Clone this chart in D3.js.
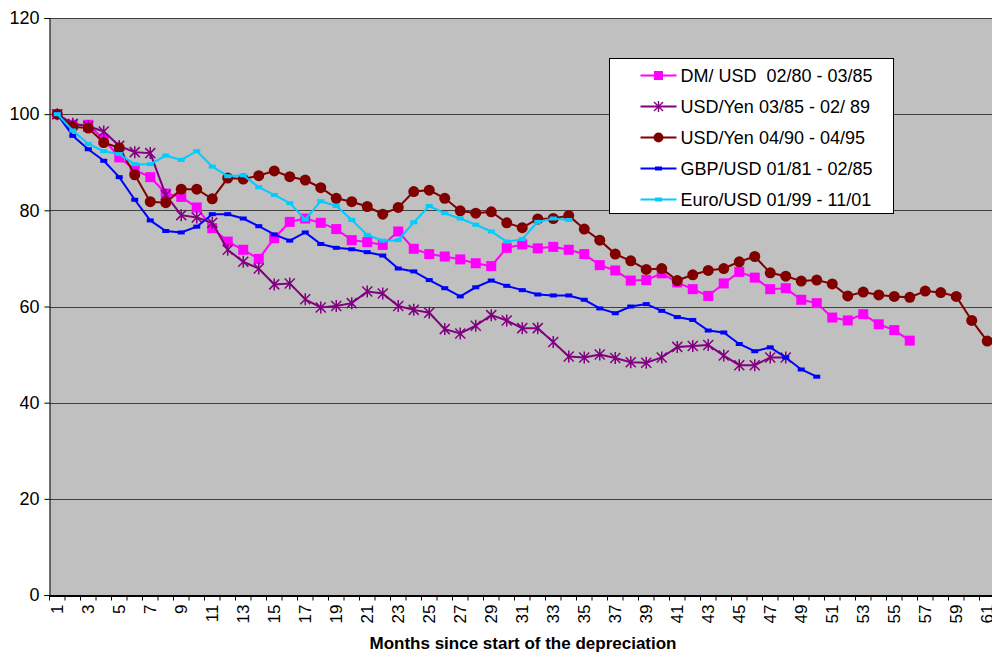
<!DOCTYPE html>
<meta charset="utf-8">
<style>
body { margin: 0; background: #fff; }
svg { font-family: "Liberation Sans", Arial, sans-serif; }
.grid line { stroke: #404040; stroke-width: 1px; }
.series { fill: none; stroke-width: 2px; }
</style>
<body>
<script src="https://d3js.org/d3.v7.min.js"></script>
<script>

// months 1..61
var months = d3.range(1, 62);
var yTicks = [0, 20, 40, 60, 80, 100, 120];

var dmUsd = [100, 97.8, 97.8, 94.8, 91.0, 88.4, 86.9, 83.5, 82.8, 80.6,
  76.3, 73.5, 71.8, 69.9, 74.2, 77.6, 78.3, 77.4, 76.1, 73.8,
  73.4, 72.8, 75.6, 72.0, 70.9, 70.4, 69.8, 69.0, 68.4, 72.2,
  72.9, 72.1, 72.4, 71.8, 70.9, 68.6, 67.5, 65.4, 65.5, 66.9,
  65.0, 63.6, 62.2, 64.8, 67.2, 66.0, 63.6, 63.8, 61.4, 60.7,
  57.7, 57.1, 58.4, 56.3, 55.1, 52.9];

var usdYen85 = [100, 98.0, 97.5, 96.4, 93.4, 92.1, 91.9, 83.2, 79.0, 78.5,
  77.4, 71.8, 69.3, 67.9, 64.6, 64.8, 61.5, 59.8, 60.1, 60.7,
  63.1, 62.7, 60.1, 59.3, 58.7, 55.3, 54.4, 56.0, 58.2, 57.1,
  55.5, 55.5, 52.6, 49.6, 49.4, 50.0, 49.3, 48.4, 48.3, 49.4,
  51.6, 51.8, 52.0, 49.8, 47.8, 47.8, 49.4, 49.4];

var usdYen90 = [100, 97.4, 97.1, 94.1, 93.0, 87.4, 81.8, 81.6, 84.4, 84.4,
  82.4, 86.7, 86.5, 87.2, 88.2, 87.0, 86.3, 84.7, 82.5, 81.8,
  80.8, 79.2, 80.6, 83.9, 84.2, 82.5, 79.9, 79.4, 79.7, 77.4,
  76.4, 78.2, 78.3, 78.9, 76.1, 73.8, 70.9, 69.5, 67.7, 67.9,
  65.4, 66.6, 67.5, 67.9, 69.3, 70.4, 67.0, 66.3, 65.3, 65.5,
  64.7, 62.2, 63.0, 62.4, 62.1, 61.9, 63.2, 62.9, 62.1, 57.1,
  52.8];

var gbpUsd = [100, 95.5, 92.7, 90.3, 86.9, 82.2, 77.9, 75.7, 75.4, 76.6,
  79.2, 79.2, 78.3, 76.7, 75.0, 73.7, 75.4, 73.0, 72.2, 71.9,
  71.3, 70.6, 67.9, 67.3, 65.5, 63.8, 62.1, 64.0, 65.4, 64.3,
  63.4, 62.5, 62.3, 62.3, 61.4, 59.6, 58.6, 60.0, 60.5, 59.1,
  57.8, 57.2, 55.0, 54.6, 52.2, 50.7, 51.5, 49.4, 46.9, 45.4];

var euroUsd = [100, 96.6, 93.8, 92.3, 91.7, 89.6, 89.6, 91.4, 90.5, 92.3,
  89.1, 87.1, 87.3, 84.8, 83.2, 81.5, 78.1, 81.9, 80.9, 78.0,
  74.9, 73.7, 73.8, 77.5, 80.9, 79.4, 78.3, 77.0, 75.6, 73.5,
  74.0, 77.6, 78.3, 78.0];

var seriesNames = ["DM/ USD  02/80 - 03/85", "USD/Yen 03/85 - 02/ 89",
  "USD/Yen 04/90 - 04/95", "GBP/USD 01/81 - 02/85", "Euro/USD 01/99 - 11/01"];

var series = [
  {name: seriesNames[0], values: dmUsd, color: "#FF00FF", marker: "square"},
  {name: seriesNames[1], values: usdYen85, color: "#800080", marker: "star"},
  {name: seriesNames[2], values: usdYen90, color: "#800000", marker: "circle"},
  {name: seriesNames[3], values: gbpUsd, color: "#0000FF", marker: "dash"},
  {name: seriesNames[4], values: euroUsd, color: "#00CCFF", marker: "dash"}
];

var width = 992, height = 652;
var plotLeft = 49.5, plotRight = 995, plotTop = 18, plotBottom = 595;

var svg = d3.select("body").append("svg")
    .attr("width", width)
    .attr("height", height);

var x = d3.scaleBand().domain(months).range([plotLeft, plotRight]).padding(0);
var y = d3.scaleLinear().domain([0, 120]).range([plotBottom, plotTop]);

// plot area
svg.append("rect")
    .attr("x", plotLeft).attr("y", plotTop)
    .attr("width", plotRight - plotLeft).attr("height", plotBottom - plotTop)
    .attr("fill", "#C0C0C0");

// gridlines
svg.append("g").attr("class", "grid")
  .selectAll("line")
  .data(yTicks.filter(function(d) { return d > 0; }))
  .enter().append("line")
    .attr("x1", plotLeft).attr("x2", plotRight)
    .attr("y1", function(d) { return Math.round(y(d)) + 0.5; })
    .attr("y2", function(d) { return Math.round(y(d)) + 0.5; });

// y axis
var yAxis = svg.append("g")
    .attr("transform", "translate(" + plotLeft + ",0)")
    .call(d3.axisLeft(y).tickValues(yTicks).tickSize(5).tickPadding(5));
yAxis.select(".domain").attr("stroke", "#000");
yAxis.selectAll(".tick text").style("font-size", "18px").attr("fill", "#000");

// x axis
var xAxis = svg.append("g")
    .attr("transform", "translate(0," + (plotBottom + 0.5) + ")")
    .call(d3.axisBottom(x).tickSize(0)
      .tickFormat(function(d) { return d % 2 === 1 ? d : ""; }));
xAxis.select(".domain").attr("stroke", "#000").attr("stroke-width", 2);
xAxis.selectAll(".tick text")
    .style("font-size", "17px")
    .attr("fill", "#000")
    .attr("transform", "rotate(-90)")
    .attr("text-anchor", "end")
    .attr("x", -9)
    .attr("y", 0)
    .attr("dy", "0.35em");

// tick marks on band edges
xAxis.selectAll(".edge")
  .data(months.concat([62]))
  .enter().append("line")
    .attr("stroke", "#000")
    .attr("x1", function(d) { return d <= 61 ? x(d) : plotRight; })
    .attr("x2", function(d) { return d <= 61 ? x(d) : plotRight; })
    .attr("y1", 0).attr("y2", 5);

svg.append("text")
    .attr("x", 523).attr("y", 649)
    .attr("text-anchor", "middle")
    .style("font-size", "17px")
    .style("font-weight", "bold")
    .text("Months since start of the depreciation");

var line = d3.line()
    .x(function(d, i) { return x(i + 1) + x.bandwidth() / 2; })
    .y(function(d) { return y(d); });

function drawMarker(g, type, color, k) {
  if (type === "square") {
    g.append("rect").attr("x", -5 * k).attr("y", -5 * k).attr("width", 10 * k).attr("height", 10 * k)
      .attr("fill", color);
  } else if (type === "circle") {
    g.append("circle").attr("r", 5.5 * k).attr("fill", color);
  } else if (type === "star") {
    g.append("path").attr("d", "M0,-6V6M-5,-5L5,5M-5,5L5,-5")
      .attr("transform", "scale(" + k + ")")
      .attr("stroke", color).attr("stroke-width", 1.5).attr("fill", "none");
  } else if (type === "dash") {
    g.append("rect").attr("x", -3.5).attr("y", -2).attr("width", 7).attr("height", 4)
      .attr("fill", color);
  }
}

series.forEach(function(s) {
  svg.append("path")
      .datum(s.values)
      .attr("class", "series")
      .attr("stroke", s.color)
      .attr("d", line);
  svg.selectAll(null)
      .data(s.values)
    .enter().append("g")
      .attr("transform", function(d, i) {
        return "translate(" + (x(i + 1) + x.bandwidth() / 2) + "," + y(d) + ")";
      })
      .each(function() { drawMarker(d3.select(this), s.marker, s.color, 1); });
});

// legend
var legend = svg.append("g").attr("transform", "translate(609.5,58.5)");
legend.append("rect")
    .attr("width", 284).attr("height", 155)
    .attr("fill", "#fff").attr("stroke", "#000");
series.forEach(function(s, i) {
  var g = legend.append("g").attr("transform", "translate(0," + (17 + i * 31) + ")");
  g.append("line").attr("x1", 31).attr("x2", 67)
    .attr("stroke", s.color).attr("stroke-width", 2);
  var m = g.append("g").attr("transform", "translate(49,0)");
  drawMarker(m, s.marker, s.color, 0.9);
  g.append("text").attr("x", 71).attr("y", 0).attr("dy", "0.35em")
    .style("font-size", "18px")
    .style("white-space", "pre")
    .attr("fill", "#000")
    .text(s.name);
});

</script>
</body>
